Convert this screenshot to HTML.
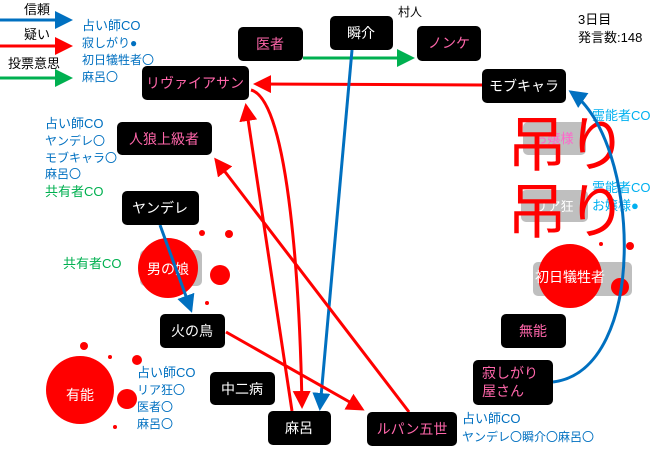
<!DOCTYPE html>
<html><head><meta charset="utf-8"><style>
body{margin:0;width:660px;height:449px;background:#fff;overflow:hidden;font-family:"Liberation Sans","Noto Sans CJK JP",sans-serif;}
</style></head><body>
<svg width="660" height="449" viewBox="0 0 660 449" xmlns="http://www.w3.org/2000/svg" font-family="Liberation Sans, Noto Sans CJK JP, sans-serif">
<defs>
<marker id="ar" markerWidth="6" markerHeight="6" refX="5" refY="3" orient="auto" markerUnits="strokeWidth"><path d="M0,0 L6,3 L0,6z" fill="#f00"/></marker>
<marker id="ab" markerWidth="6" markerHeight="6" refX="5" refY="3" orient="auto" markerUnits="strokeWidth"><path d="M0,0 L6,3 L0,6z" fill="#0070c0"/></marker>
<marker id="ag" markerWidth="6" markerHeight="6" refX="5" refY="3" orient="auto" markerUnits="strokeWidth"><path d="M0,0 L6,3 L0,6z" fill="#00b050"/></marker>
</defs>
<!-- legend -->
<text x="24" y="14" font-size="13">信頼</text>
<line x1="0" y1="20" x2="70" y2="20" stroke="#0070c0" stroke-width="3" marker-end="url(#ab)"/>
<text x="24" y="39" font-size="13">疑い</text>
<line x1="0" y1="46" x2="70" y2="46" stroke="#f00" stroke-width="3" marker-end="url(#ar)"/>
<text x="8" y="68" font-size="13">投票意思</text>
<line x1="0" y1="78" x2="70" y2="78" stroke="#00b050" stroke-width="3" marker-end="url(#ag)"/>
<g fill="#0070c0" font-size="12">
<text x="82" y="30" font-size="13">占い師CO</text><text x="82" y="47">寂しがり●</text><text x="82" y="64">初日犠牲者〇</text><text x="82" y="81">麻呂〇</text>
<text x="45" y="128" font-size="13">占い師CO</text><text x="45" y="145">ヤンデレ〇</text><text x="45" y="162">モブキャラ〇</text><text x="45" y="178">麻呂〇</text>
<text x="137" y="377" font-size="13">占い師CO</text><text x="137" y="394">リア狂〇</text><text x="137" y="411">医者〇</text><text x="137" y="428">麻呂〇</text>
<text x="462" y="423" font-size="13">占い師CO</text><text x="462" y="441">ヤンデレ〇瞬介〇麻呂〇</text>
</g>
<g fill="#00b0f0" font-size="13"><text x="592" y="120">霊能者CO</text><text x="592" y="192">霊能者CO</text><text x="592" y="210">お嬢様●</text></g>
<text x="45" y="196" font-size="13" fill="#00b050">共有者CO</text>
<text x="63" y="268" font-size="13" fill="#00b050">共有者CO</text>
<text x="398" y="16" font-size="12">村人</text>
<text x="578" y="24" font-size="13">3日目</text>
<text x="578" y="42" font-size="13">発言数:148</text>
<!-- grey boxes -->
<rect x="523" y="122" width="63" height="33" rx="5" fill="#bfbfbf"/><text x="554" y="143" font-size="13" fill="#ff66cc" text-anchor="middle">お嬢様</text>
<rect x="521" y="190" width="67" height="32" rx="5" fill="#bfbfbf"/><text x="554" y="211" font-size="13" fill="#fff" text-anchor="middle">リア狂</text>
<rect x="533" y="262" width="99" height="34" rx="5" fill="#bfbfbf"/>
<rect x="140" y="250" width="62" height="36" rx="5" fill="#bfbfbf"/>
<!-- blood -->
<g fill="#f00">
<circle cx="168" cy="268" r="30"/><circle cx="220" cy="275" r="10"/><circle cx="229" cy="234" r="4"/><circle cx="202" cy="233" r="3"/><circle cx="207" cy="303" r="2"/>
<circle cx="570" cy="276" r="32"/><circle cx="620" cy="287" r="9"/><circle cx="630" cy="246" r="4"/><circle cx="601" cy="244" r="2"/>
<circle cx="80" cy="390" r="34"/><circle cx="127" cy="399" r="10"/><circle cx="137" cy="360" r="5"/><circle cx="84" cy="346" r="4"/><circle cx="110" cy="357" r="2"/><circle cx="115" cy="427" r="2"/>
</g>
<text x="570" y="282" font-size="14" fill="#fff" text-anchor="middle">初日犠牲者</text>
<text x="168" y="274" font-size="14" fill="#fff" text-anchor="middle">男の娘</text>
<text x="80" y="400" font-size="14" fill="#fff" text-anchor="middle">有能</text>
<!-- 吊り -->
<g fill="#f00" font-size="60"><text x="507" y="166">吊り</text><text x="507" y="233">吊り</text></g>
<!-- connectors -->
<line x1="303" y1="58" x2="412" y2="58" stroke="#00b050" stroke-width="3" marker-end="url(#ag)"/>
<line x1="482" y1="85" x2="256" y2="84" stroke="#f00" stroke-width="3" marker-end="url(#ar)"/>
<line x1="352" y1="50" x2="320" y2="408" stroke="#0070c0" stroke-width="3" marker-end="url(#ab)"/>
<line x1="292" y1="411" x2="246" y2="106" stroke="#f00" stroke-width="3" marker-end="url(#ar)"/>
<path d="M251,90 C290,100 300,300 302,406" fill="none" stroke="#f00" stroke-width="3" marker-end="url(#ar)"/>
<line x1="409" y1="412" x2="216" y2="160" stroke="#f00" stroke-width="3" marker-end="url(#ar)"/>
<line x1="226" y1="332" x2="362" y2="409" stroke="#f00" stroke-width="3" marker-end="url(#ar)"/>
<line x1="160" y1="225" x2="191" y2="310" stroke="#0070c0" stroke-width="3" marker-end="url(#ab)"/>
<path d="M553,382 C650,370 640,140 571,92" fill="none" stroke="#0070c0" stroke-width="3" marker-end="url(#ab)"/>
<!-- nodes -->
<g font-size="14" text-anchor="middle">
<rect x="238" y="27" width="65" height="34" rx="5"/><text x="270" y="49" fill="#ff66aa">医者</text>
<rect x="330" y="16" width="63" height="34" rx="5"/><text x="361" y="38" fill="#fff">瞬介</text>
<rect x="417" y="26" width="64" height="35" rx="5"/><text x="449" y="48" fill="#ff66aa">ノンケ</text>
<rect x="142" y="66" width="107" height="34" rx="5"/><text x="195" y="88" fill="#ff66aa">リヴァイアサン</text>
<rect x="482" y="69" width="84" height="34" rx="5"/><text x="524" y="91" fill="#fff">モブキャラ</text>
<rect x="117" y="122" width="95" height="33" rx="5"/><text x="164" y="144" fill="#ff66aa">人狼上級者</text>
<rect x="122" y="191" width="77" height="34" rx="5"/><text x="160" y="213" fill="#fff">ヤンデレ</text>
<rect x="160" y="314" width="65" height="34" rx="5"/><text x="192" y="336" fill="#fff">火の鳥</text>
<rect x="210" y="372" width="65" height="33" rx="5"/><text x="242" y="394" fill="#fff">中二病</text>
<rect x="268" y="411" width="63" height="34" rx="5"/><text x="299" y="433" fill="#fff">麻呂</text>
<rect x="367" y="412" width="90" height="34" rx="5"/><text x="412" y="434" fill="#ff66aa">ルパン五世</text>
<rect x="501" y="314" width="65" height="34" rx="5"/><text x="533" y="336" fill="#ff66aa">無能</text>
<rect x="473" y="360" width="80" height="45" rx="5"/><text x="482" y="378" fill="#ff66aa" text-anchor="start">寂しがり</text><text x="482" y="396" fill="#ff66aa" text-anchor="start">屋さん</text>
</g>
</svg>
</body></html>
